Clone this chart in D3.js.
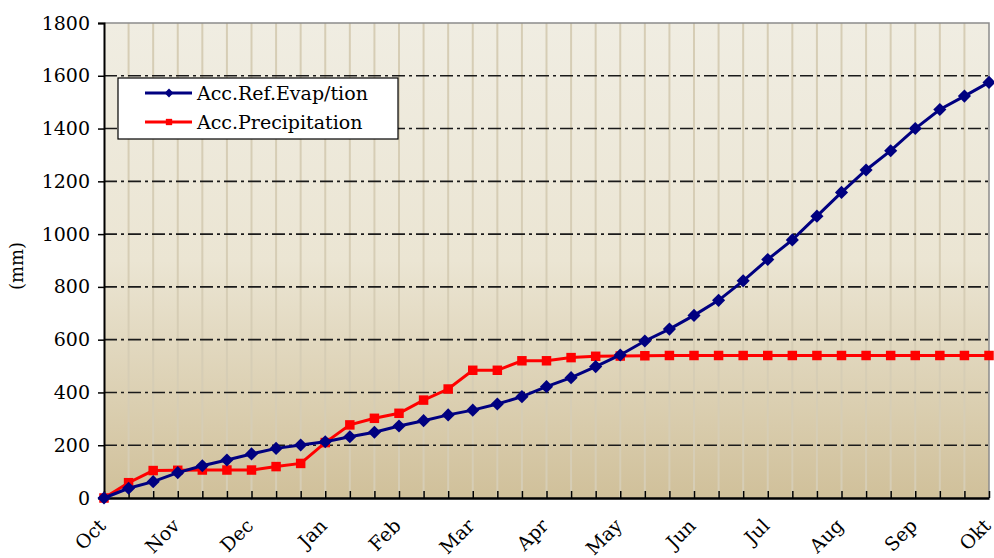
<!DOCTYPE html>
<html lang="en">
<head>
    <meta charset="UTF-8">
    <title>Accumulated evapotranspiration and precipitation</title>
    <script src="https://cdn.jsdelivr.net/npm/d3@7"></script>
    <style>
        body {
            margin: 0;
            padding: 0;
            background: #ffffff;
            font-family: 'DejaVu Serif', 'Liberation Serif', serif;
        }
        #chart svg { display: block; }
    </style>
</head>
<body>
    <div id="chart"></div>
    <script>
        // month labels, one every 3 ten-day periods
        var months = ["Oct", "Nov", "Dec", "Jan", "Feb", "Mar", "Apr", "May", "Jun", "Jul", "Aug", "Sep", "Okt"];

        // accumulated values (mm) per ten-day period
        var evapValues = [0, 37, 62, 96, 122, 144, 167, 188, 201, 213, 232, 249, 273, 293, 315, 333, 356, 384, 422,
            456, 498, 542, 595, 640, 692, 749, 823, 904, 978, 1068, 1158, 1243, 1316, 1400, 1472, 1523, 1575];
        var precValues = [0, 58, 104, 105, 106, 106, 106, 119, 131, 210, 277, 302, 321, 371, 413, 484, 484, 520, 520,
            532, 537, 538, 539, 540, 540, 540, 540, 540, 540, 540, 540, 540, 540, 540, 540, 540, 540];

        var yTicks = [0, 200, 400, 600, 800, 1000, 1200, 1400, 1600, 1800];

        var width = 994;
        var height = 558;
        var plotLeft = 104, plotRight = 989, plotTop = 23, plotBottom = 498;

        var svg = d3.select("#chart").append("svg")
            .attr("width", width)
            .attr("height", height);

        var xScale = d3.scaleLinear()
            .domain([0, evapValues.length - 1])
            .range([plotLeft, plotRight]);

        var yScale = d3.scaleLinear()
            .domain([0, 1800])
            .range([plotBottom, plotTop]);

        // background gradient of the plot area
        var defs = svg.append("defs");
        var grad = defs.append("linearGradient")
            .attr("id", "bg")
            .attr("x1", 0).attr("y1", 0).attr("x2", 0).attr("y2", 1);
        grad.append("stop").attr("offset", "0%").attr("stop-color", "#f0ede2");
        grad.append("stop").attr("offset", "50%").attr("stop-color", "#ebe5d3");
        grad.append("stop").attr("offset", "100%").attr("stop-color", "#d0c09a");

        svg.append("rect")
            .attr("x", plotLeft).attr("y", plotTop)
            .attr("width", plotRight - plotLeft).attr("height", plotBottom - plotTop)
            .attr("fill", "url(#bg)");

        // vertical light grid, one per ten-day period
        svg.append("g").selectAll("line")
            .data(d3.range(1, evapValues.length - 1))
            .enter().append("line")
            .attr("x1", d => xScale(d)).attr("x2", d => xScale(d))
            .attr("y1", plotTop).attr("y2", plotBottom)
            .style("stroke", "#d6cdb5")
            .style("stroke-width", 2);

        // horizontal dash-dot grid
        svg.append("g").selectAll("line")
            .data(yTicks.slice(1, -1))
            .enter().append("line")
            .attr("x1", plotLeft).attr("x2", plotRight)
            .attr("y1", d => yScale(d)).attr("y2", d => yScale(d))
            .style("stroke", "#1a1a1a")
            .style("stroke-width", 1.6)
            .style("stroke-dasharray", "13 4 3 4");

        // plot border (top/right grey)
        svg.append("path")
            .attr("d", "M" + plotLeft + "," + plotTop + "H" + plotRight + "V" + plotBottom)
            .attr("fill", "none")
            .style("stroke", "#8c8c8c")
            .style("stroke-width", 1.5);

        // y axis
        var yAxis = d3.axisLeft(yScale)
            .tickValues(yTicks)
            .tickSize(6)
            .tickPadding(8)
            .tickFormat(d3.format("d"));

        var gy = svg.append("g")
            .attr("transform", "translate(" + plotLeft + ",0)")
            .call(yAxis);
        gy.select(".domain").style("stroke", "#000").style("stroke-width", 2);
        gy.selectAll(".tick line").style("stroke", "#000").style("stroke-width", 1.5);
        gy.selectAll("text")
            .style("font-family", "'DejaVu Serif', serif")
            .style("font-size", "19px")
            .style("fill", "#000");

        // x axis: inner ticks every ten-day period
        var xAxis = d3.axisBottom(xScale)
            .tickValues(d3.range(0, evapValues.length))
            .tickSizeInner(-7)
            .tickSizeOuter(0)
            .tickFormat("");

        var gx = svg.append("g")
            .attr("transform", "translate(0," + plotBottom + ")")
            .call(xAxis);
        gx.select(".domain").style("stroke", "#000").style("stroke-width", 2.5);
        gx.selectAll(".tick line").style("stroke", "#000").style("stroke-width", 1.5);

        // month labels, rotated
        svg.append("g").selectAll("text")
            .data(months)
            .enter().append("text")
            .attr("transform", (d, i) => "translate(" + (xScale(i * 3) + 3) + "," + (plotBottom + 29) + ") rotate(-45)")
            .attr("text-anchor", "end")
            .style("font-family", "'DejaVu Serif', serif")
            .style("font-size", "19px")
            .text(d => d);

        // y axis title
        svg.append("text")
            .attr("transform", "translate(23,266) rotate(-90)")
            .attr("text-anchor", "middle")
            .style("font-family", "'DejaVu Serif', serif")
            .style("font-size", "18px")
            .text("(mm)");

        var line = d3.line()
            .x((d, i) => xScale(i))
            .y(d => yScale(d));

        var diamond = d3.symbol().type(d3.symbolDiamond2).size(110);
        var square = d3.symbol().type(d3.symbolSquare).size(90);

        // precipitation series
        svg.append("path")
            .datum(precValues)
            .attr("d", line)
            .attr("fill", "none")
            .style("stroke", "#ff0000")
            .style("stroke-width", 3);

        svg.append("g").selectAll("path")
            .data(precValues)
            .enter().append("path")
            .attr("d", square)
            .attr("transform", (d, i) => "translate(" + xScale(i) + "," + yScale(d) + ")")
            .attr("fill", "#ff0000");

        // evapotranspiration series
        svg.append("path")
            .datum(evapValues)
            .attr("d", line)
            .attr("fill", "none")
            .style("stroke", "#000080")
            .style("stroke-width", 3);

        svg.append("g").selectAll("path")
            .data(evapValues)
            .enter().append("path")
            .attr("d", diamond)
            .attr("transform", (d, i) => "translate(" + xScale(i) + "," + yScale(d) + ")")
            .attr("fill", "#000080");

        // legend
        var legendData = [
            { name: "Acc.Ref.Evap/tion", color: "#000080", symbol: d3.symbol().type(d3.symbolDiamond2).size(50) },
            { name: "Acc.Precipitation", color: "#ff0000", symbol: d3.symbol().type(d3.symbolSquare).size(40) }
        ];

        var legend = svg.append("g")
            .attr("transform", "translate(118,78)");

        legend.append("rect")
            .attr("width", 280)
            .attr("height", 61)
            .attr("fill", "#ffffff")
            .style("stroke", "#000")
            .style("stroke-width", 1.2);

        var items = legend.selectAll(".legend-item")
            .data(legendData)
            .enter().append("g")
            .attr("class", "legend-item")
            .attr("transform", (d, i) => "translate(0," + (15 + i * 29) + ")");

        items.append("line")
            .attr("x1", 27).attr("x2", 74)
            .style("stroke", d => d.color)
            .style("stroke-width", 3);

        items.append("path")
            .attr("d", d => d.symbol())
            .attr("transform", "translate(51,0)")
            .attr("fill", d => d.color);

        items.append("text")
            .attr("x", 79)
            .attr("y", 7)
            .style("font-family", "'DejaVu Serif', serif")
            .style("font-size", "19px")
            .text(d => d.name);
    </script>
</body>
</html>
